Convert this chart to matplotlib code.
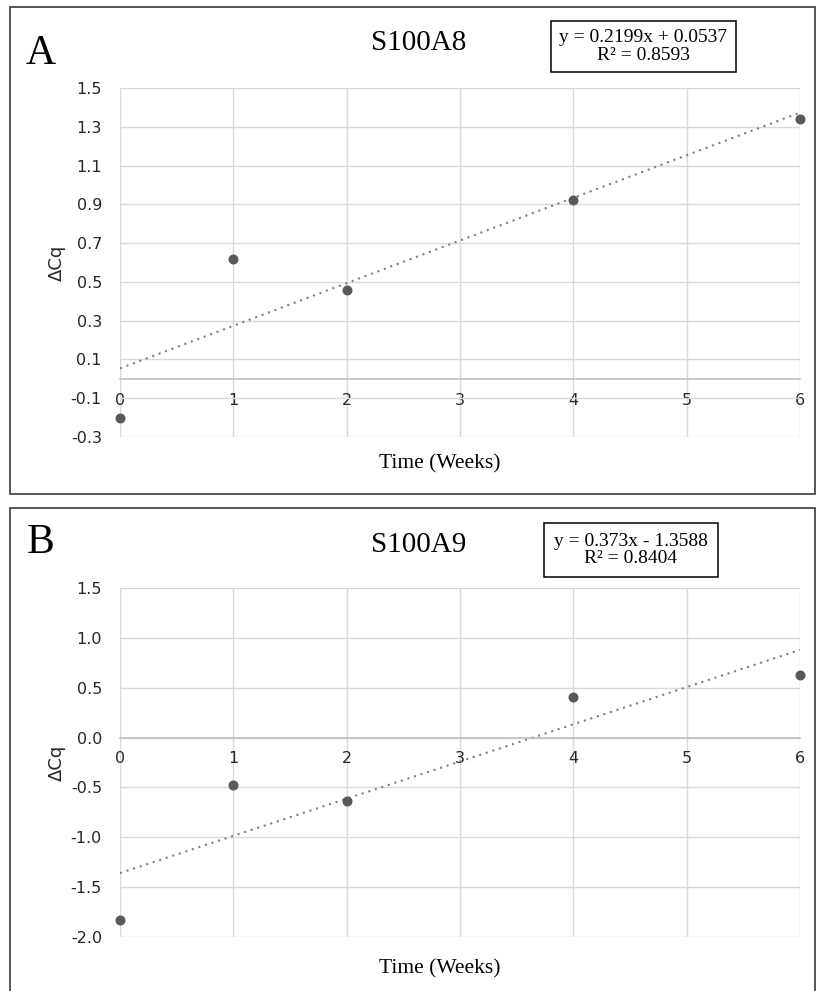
import matplotlib
matplotlib.use("Agg")
import matplotlib.pyplot as plt
from matplotlib.patches import Rectangle
import numpy as np

# Sampling times (weeks)
weeks = [0, 1, 2, 4, 6]

# S100A8 delta-Cq values and linear trendline (slope, intercept, R^2)
s100a8 = [-0.20, 0.62, 0.46, 0.92, 1.34]
s100a8_fit = (0.2199, 0.0537, 0.8593)

# S100A9 delta-Cq values and linear trendline (slope, intercept, R^2)
s100a9 = [-1.83, -0.48, -0.64, 0.41, 0.63]
s100a9_fit = (0.373, -1.3588, 0.8404)

y_ticks_a = [-0.3, -0.1, 0.1, 0.3, 0.5, 0.7, 0.9, 1.1, 1.3, 1.5]
y_ticks_b = [-2.0, -1.5, -1.0, -0.5, 0.0, 0.5, 1.0, 1.5]

W, H = 817, 991
fig = plt.figure(figsize=(W / 100, H / 100), dpi=100)

SERIF = "Liberation Serif"
SANS = "DejaVu Sans"
GRID = "#d9d9d9"
AXIS = "#bfbfbf"
POINT = "#595959"
TREND = "#7f7f7f"


def fx(x):
    return x / W


def fy(y):
    return 1 - y / H


def panel(frame, plot, letter, title_y, title, eq_box, eq_text, fit, values,
          yticks, ylim, xlabel_y, letter_y):
    # outer panel frame (pixel coordinates, top-left origin)
    x0, y0, x1, y1 = frame
    fig.patches.append(Rectangle((fx(x0), fy(y1)), (x1 - x0) / W, (y1 - y0) / H,
                                 transform=fig.transFigure, fill=False,
                                 edgecolor="#3a3a3a", linewidth=1.2))
    fig.text(fx(41), fy(letter_y), letter, fontsize=30,
             family=SERIF, ha="center", va="center")
    fig.text(fx(419), fy(title_y), title, fontsize=21,
             family=SERIF, ha="center", va="center")

    # equation box
    bx0, by0, bx1, by1 = eq_box
    fig.patches.append(Rectangle((fx(bx0), fy(by1)), (bx1 - bx0) / W, (by1 - by0) / H,
                                 transform=fig.transFigure, facecolor="white",
                                 edgecolor="black", linewidth=1.1))
    fig.text(fx((bx0 + bx1) / 2), fy((by0 + by1) / 2), eq_text, fontsize=14,
             family=SERIF, ha="center", va="center", linespacing=1.0)

    px0, py0, px1, py1 = plot
    ax = fig.add_axes([fx(px0), fy(py1), (px1 - px0) / W, (py1 - py0) / H])
    slope, intercept, _ = fit
    xs = np.array([weeks[0], weeks[-1]], dtype=float)
    ax.plot(xs, slope * xs + intercept, linestyle=(0, (1, 2.3)), color=TREND,
            linewidth=1.5, zorder=2)
    ax.scatter(weeks, values, s=52, color=POINT, zorder=3, clip_on=False,
               linewidths=0)

    ax.set_xlim(0, 6)
    ax.set_ylim(*ylim)
    ax.set_xticks(range(0, 7))
    ax.set_yticks(yticks)
    ax.set_yticklabels([f"{v:.1f}" for v in yticks])
    ax.grid(True, color=GRID, linewidth=1.0, zorder=0)
    ax.set_axisbelow(True)
    for s in ("top", "right", "left"):
        ax.spines[s].set_visible(False)
    ax.spines["bottom"].set_position(("data", 0))
    ax.spines["bottom"].set_color(AXIS)
    ax.spines["bottom"].set_linewidth(1.2)
    ax.tick_params(axis="both", length=0, labelsize=11.5, labelcolor="#262626")
    ax.tick_params(axis="x", pad=10)
    ax.tick_params(axis="y", pad=13)
    for lab in ax.get_xticklabels() + ax.get_yticklabels():
        lab.set_family(SANS)
    fig.text(fx(57), fy((py0 + py1) / 2), "\u0394Cq", family=SANS, fontsize=13,
             rotation=90, ha="center", va="center", color="#262626")
    fig.text(fx(440), fy(xlabel_y), "Time (Weeks)",
             family=SERIF, fontsize=15.5, ha="center", va="center")
    return ax


panel((10, 7, 815, 494), (120, 88, 800, 437), "A", 43.5, "S100A8",
      (551, 21, 736, 72), "y = 0.2199x + 0.0537\nR\u00b2 = 0.8593",
      s100a8_fit, s100a8, y_ticks_a, (-0.3, 1.5), 464, 54)
panel((10, 508, 815, 1000), (120, 588, 800, 937), "B", 545, "S100A9",
      (544, 523, 718, 577), "y = 0.373x - 1.3588\nR\u00b2 = 0.8404",
      s100a9_fit, s100a9, y_ticks_b, (-2.0, 1.5), 969, 543)

fig.savefig("out.png", dpi=100)
